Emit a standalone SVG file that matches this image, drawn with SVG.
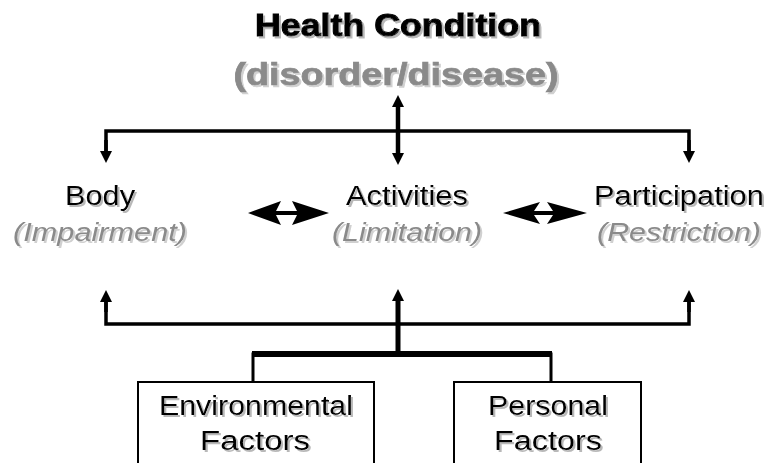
<svg xmlns="http://www.w3.org/2000/svg" width="768" height="463" viewBox="0 0 768 463">
<style>
text{font-family:"Liberation Sans",Arial,sans-serif;text-anchor:middle}
.title{font-size:31px;font-weight:bold;fill:#000;stroke:#000;stroke-width:1}
.sub{font-size:31px;font-weight:bold;fill:#8a8a8a;stroke:#8a8a8a;stroke-width:0.7}
.lab{font-size:27px;fill:#000}
.it{font-size:26px;font-style:italic;fill:#8a8a8a}
.box{fill:#fff;stroke:#000;stroke-width:2}
.ln{fill:none;stroke:#000;stroke-linecap:butt}
.dbl{fill:#000}
</style>
<defs>
<filter id="sh" x="-10%" y="-20%" width="130%" height="150%">
<feDropShadow dx="2" dy="2" stdDeviation="0.4" flood-color="#b8b8b8" flood-opacity="1"/>
</filter>
<filter id="shl" x="-10%" y="-20%" width="130%" height="150%">
<feDropShadow dx="2" dy="2" stdDeviation="0.4" flood-color="#d0d0d0" flood-opacity="1"/>
</filter>
<marker id="ah" viewBox="0 0 12 12" refX="0" refY="6" markerWidth="12" markerHeight="12" markerUnits="userSpaceOnUse" orient="auto">
<path d="M0,0 L12,6 L0,12 Z" fill="#000"/>
</marker>
</defs>

<g id="health-condition">
<text class="title" x="398" y="36" textLength="286" lengthAdjust="spacingAndGlyphs" filter="url(#sh)">Health Condition</text>
<text class="sub" x="396" y="85" textLength="325" lengthAdjust="spacingAndGlyphs" filter="url(#shl)">(disorder/disease)</text>
</g>

<g id="body">
<text class="lab" x="100" y="205" textLength="70" lengthAdjust="spacingAndGlyphs" filter="url(#sh)">Body</text>
<text class="it" x="100" y="241" textLength="174" lengthAdjust="spacingAndGlyphs" filter="url(#shl)">(Impairment)</text>
</g>

<g id="activities">
<text class="lab" x="407" y="205" textLength="122" lengthAdjust="spacingAndGlyphs" filter="url(#sh)">Activities</text>
<text class="it" x="407" y="241" textLength="150" lengthAdjust="spacingAndGlyphs" filter="url(#shl)">(Limitation)</text>
</g>

<g id="participation">
<text class="lab" x="679" y="205" textLength="170" lengthAdjust="spacingAndGlyphs" filter="url(#sh)">Participation</text>
<text class="it" x="679" y="241" textLength="164" lengthAdjust="spacingAndGlyphs" filter="url(#shl)">(Restriction)</text>
</g>

<g id="environmental-factors">
<rect class="box" x="138" y="382" width="236" height="95"/>
<text class="lab" x="256" y="415" textLength="194" lengthAdjust="spacingAndGlyphs" filter="url(#sh)">Environmental</text>
<text class="lab" x="255" y="450" textLength="110" lengthAdjust="spacingAndGlyphs" filter="url(#sh)">Factors</text>
</g>

<g id="personal-factors">
<rect class="box" x="454" y="382" width="187" height="95"/>
<text class="lab" x="548" y="415" textLength="120" lengthAdjust="spacingAndGlyphs" filter="url(#sh)">Personal</text>
<text class="lab" x="548" y="450" textLength="108" lengthAdjust="spacingAndGlyphs" filter="url(#sh)">Factors</text>
</g>

<g id="connectors">
<!-- top distribution -->
<path class="ln" d="M106,151 V131 H689 V151" stroke-width="3.5" stroke-linejoin="miter"/>
<path class="ln" d="M106,140 V151" stroke-width="3.5" marker-end="url(#ah)"/>
<path class="ln" d="M689,140 V151" stroke-width="3.5" marker-end="url(#ah)"/>
<path class="ln" d="M398,130 V107" stroke-width="4.5" marker-end="url(#ah)"/>
<path class="ln" d="M398,130 V153" stroke-width="4.5" marker-end="url(#ah)"/>
<!-- double arrows -->
<path class="dbl" d="M248,213 L281,201 L276,211 L297,211 L292,201 L329,213 L292,225 L297,215 L276,215 L281,225 Z"/>
<path class="dbl" d="M503,213 L540,202 L534,211 L553,211 L547,202 L587,213 L547,224 L553,215 L534,215 L540,224 Z"/>
<!-- bottom distribution -->
<path class="ln" d="M106,302 V324 H689 V302" stroke-width="3.5" stroke-linejoin="miter"/>
<path class="ln" d="M106,312 V302" stroke-width="3.5" marker-end="url(#ah)"/>
<path class="ln" d="M689,312 V302" stroke-width="3.5" marker-end="url(#ah)"/>
<path class="ln" d="M398,354 V301" stroke-width="5" marker-end="url(#ah)"/>
<path class="ln" d="M253,382 V354 H551 V382" stroke-width="3" stroke-linejoin="miter"/>
<path class="ln" d="M252,354 H552" stroke-width="6"/>
</g>
</svg>
